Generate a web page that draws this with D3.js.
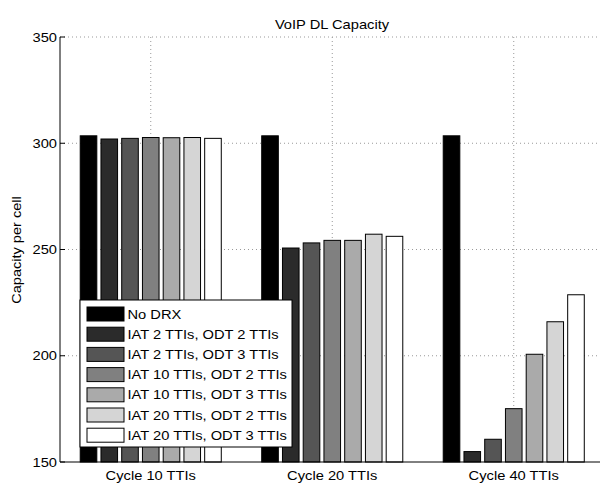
<!DOCTYPE html>
<html>
<head>
<meta charset="utf-8">
<style>
  body { margin: 0; background: #fff; }
  text { font-family: "Liberation Sans", Arial, sans-serif; }
</style>
</head>
<body>
<div id="chart"></div>
<script src="https://cdnjs.cloudflare.com/ajax/libs/d3/7.8.5/d3.min.js"></script>
<script>
  // data
  var groups = ["Cycle 10 TTIs", "Cycle 20 TTIs", "Cycle 40 TTIs"];
  var seriesNames = ["No DRX", "IAT 2 TTIs, ODT 2 TTIs", "IAT 2 TTIs, ODT 3 TTIs",
    "IAT 10 TTIs, ODT 2 TTIs", "IAT 10 TTIs, ODT 3 TTIs",
    "IAT 20 TTIs, ODT 2 TTIs", "IAT 20 TTIs, ODT 3 TTIs"];
  var seriesColors = ["#000000", "#2b2b2b", "#555555", "#808080", "#aaaaaa", "#d5d5d5", "#ffffff"];
  var noDrx     = [303.5, 303.5, 303.5];
  var iat2odt2  = [302.0, 250.7, 154.9];
  var iat2odt3  = [302.3, 253.1, 160.7];
  var iat10odt2 = [302.7, 254.3, 175.1];
  var iat10odt3 = [302.6, 254.3, 200.7];
  var iat20odt2 = [302.7, 257.2, 216.0];
  var iat20odt3 = [302.3, 256.2, 228.7];
  var allSeries = [noDrx, iat2odt2, iat2odt3, iat10odt2, iat10odt3, iat20odt2, iat20odt3];
  var yTicks = [150, 200, 250, 300, 350];

  var width = 600, height = 484;
  var svg = d3.select("#chart").append("svg")
    .attr("width", width)
    .attr("height", height);

  var plotLeft = 60, plotRight = 604.5, plotTop = 37, plotBottom = 462;
  var xScale = d3.scaleLinear().domain([0.5, 3.5]).range([plotLeft, plotRight]);
  var yScale = d3.scaleLinear().domain([150, 350]).range([plotBottom, plotTop]);

  // the figure's text is a bit wider than Liberation Sans, so stretch it
  function addText(parent, x, y, str, anchor, rotate) {
    return parent.append("text")
      .attr("transform", "translate(" + x + "," + y + ")" + (rotate ? " rotate(-90)" : "") +
        (rotate ? " scale(1.12,1)" : " scale(1.13,1)"))
      .attr("text-anchor", anchor || "start")
      .attr("font-size", "13px")
      .attr("fill", "#000")
      .text(str);
  }

  // grid
  var grid = svg.append("g");
  yTicks.slice(1).forEach(function(v) {
    grid.append("line")
      .attr("x1", plotLeft).attr("x2", plotRight)
      .attr("y1", yScale(v)).attr("y2", yScale(v))
      .attr("stroke", "#999").attr("stroke-width", 1)
      .attr("stroke-dasharray", "1,3");
  });
  groups.forEach(function(g, i) {
    grid.append("line")
      .attr("x1", xScale(i + 1)).attr("x2", xScale(i + 1))
      .attr("y1", plotTop).attr("y2", plotBottom)
      .attr("stroke", "#999").attr("stroke-width", 1)
      .attr("stroke-dasharray", "1,3");
  });

  // bars
  var slot = 0.8 / seriesNames.length;
  var barW = xScale(slot * 0.8) - xScale(0);
  allSeries.forEach(function(vals, s) {
    vals.forEach(function(v, g) {
      var cx = xScale(g + 1 + (s - (seriesNames.length - 1) / 2) * slot);
      svg.append("rect")
        .attr("x", cx - barW / 2)
        .attr("y", yScale(v))
        .attr("width", barW)
        .attr("height", yScale(150) - yScale(v))
        .attr("fill", seriesColors[s])
        .attr("stroke", "#000")
        .attr("stroke-width", 1);
    });
  });

  // axes
  svg.append("line")
    .attr("x1", plotLeft).attr("x2", plotLeft).attr("y1", plotTop).attr("y2", plotBottom)
    .attr("stroke", "#000");
  svg.append("line")
    .attr("x1", plotLeft).attr("x2", plotRight).attr("y1", plotBottom).attr("y2", plotBottom)
    .attr("stroke", "#000");
  yTicks.forEach(function(v) {
    svg.append("line")
      .attr("x1", plotLeft).attr("x2", plotLeft + 5)
      .attr("y1", yScale(v)).attr("y2", yScale(v))
      .attr("stroke", "#000");
    addText(svg, plotLeft - 3, yScale(v) + 4.5, v, "end");
  });
  groups.forEach(function(g, i) {
    addText(svg, xScale(i + 1), 480, g, "middle");
  });

  // title and y label
  addText(svg, 332, 29, "VoIP DL Capacity", "middle");
  addText(svg, 21, 250, "Capacity per cell", "middle", true);

  // legend
  var legend = svg.append("g");
  legend.append("rect")
    .attr("x", 80).attr("y", 300)
    .attr("width", 212).attr("height", 147)
    .attr("fill", "#fff").attr("stroke", "#000");
  seriesNames.forEach(function(name, i) {
    var cy = 314 + i * 20.2;
    legend.append("rect")
      .attr("x", 87).attr("y", cy - 7)
      .attr("width", 37).attr("height", 14)
      .attr("fill", seriesColors[i])
      .attr("stroke", "#000");
    addText(legend, 127.5, cy + 4.5, name, "start");
  });
</script>
</body>
</html>
